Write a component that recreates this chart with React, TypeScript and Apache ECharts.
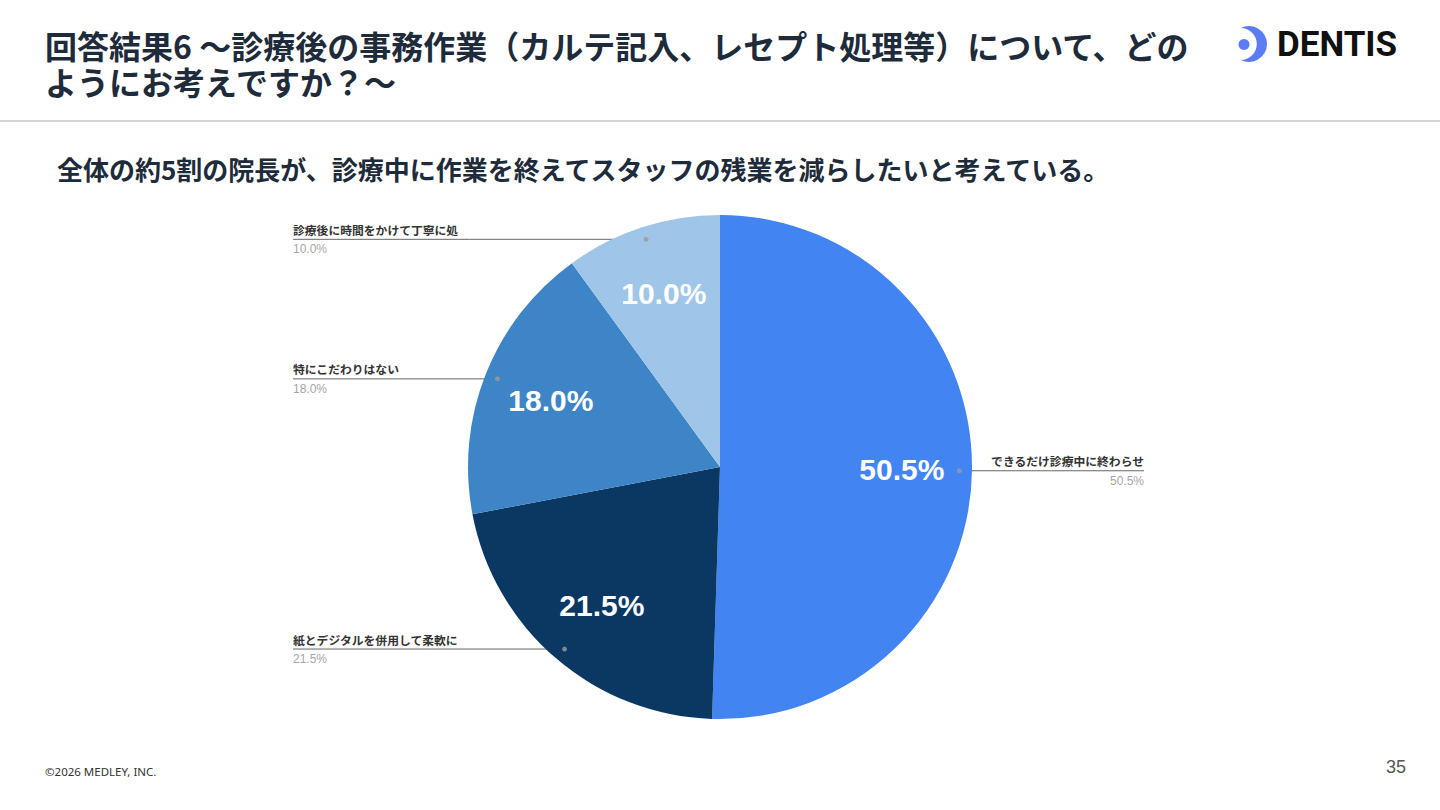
import React, { useEffect, useRef } from "react";
import * as echarts from "echarts";

// ---- data ----
const categories = [
  "できるだけ診療中に終わらせ",
  "紙とデジタルを併用して柔軟に",
  "特にこだわりはない",
  "診療後に時間をかけて丁寧に処",
];
const values = [50.5, 21.5, 18.0, 10.0];
const sliceColors = ["#4384f3", "#0b3763", "#3d85c6", "#9fc5e8"];

const titleLines = [
  "回答結果6 〜診療後の事務作業（カルテ記入、レセプト処理等）について、どの",
  "ようにお考えですか？〜",
];
const subtitle = "全体の約5割の院長が、診療中に作業を終えてスタッフの残業を減らしたいと考えている。";
const footerText = "©2026 MEDLEY, INC.";
const pageNumber = "35";
const brandName = "DENTIS";

// ---- layout ----
const W = 1440;
const H = 810;
const CX = 720;
const CY = 467;
const R = 252;
const DOT_FRAC = 0.95;
const LEFT_LABEL_X = 293;
const RIGHT_LABEL_X = 1144;

const crescentPath =
  "M 1240.75 28 A 18 18 0 1 1 1240.75 60 A 16 16 0 1 0 1240.75 28 Z";

function midAngles(): number[] {
  const total = values.reduce((a, b) => a + b, 0);
  let cum = 0;
  return values.map((v) => {
    const m = ((cum + v / 2) / total) * 360;
    cum += v;
    return m;
  });
}

export default function App() {
  const ref = useRef<HTMLDivElement>(null);

  useEffect(() => {
    if (!ref.current) return;
    try {
      echarts.graphic.registerShape(
        "dentisCrescent",
        echarts.graphic.extendPath(crescentPath, {})
      );
    } catch (e) {
      // already registered
    }
    const chart = echarts.init(ref.current, undefined, { renderer: "svg" });
    const mids = midAngles();
    const dots = mids.map((a) => {
      const rad = (a * Math.PI) / 180;
      return [
        CX + DOT_FRAC * R * Math.sin(rad),
        CY - DOT_FRAC * R * Math.cos(rad),
      ];
    });

    const pieData = categories.map((name, i) => ({
      name,
      value: values[i],
      itemStyle: { color: sliceColors[i] },
    }));

    const option: any = {
      animation: false,
      backgroundColor: "#ffffff",
      polar: { center: [CX, CY], radius: R },
      angleAxis: {
        type: "value",
        min: 0,
        max: 360,
        startAngle: 90,
        clockwise: true,
        show: false,
      },
      radiusAxis: { type: "value", min: 0, max: 1, show: false },
      graphic: [
        {
          type: "text",
          x: 45,
          y: 27,
          style: {
            text: titleLines.join("\n"),
            font: "bold 32px 'Noto Sans CJK JP'",
            lineHeight: 36,
            fill: "#1e2b3a",
            verticalAlign: "top",
          },
        },
        {
          type: "rect",
          shape: { x: 0, y: 120, width: W, height: 2 },
          style: { fill: "#d6d6d6" },
        },
        {
          type: "text",
          x: 57,
          y: 168,
          style: {
            text: subtitle,
            font: "bold 26px 'Noto Sans CJK JP'",
            fill: "#1e2b3a",
            verticalAlign: "middle",
          },
        },
        {
          type: "circle",
          shape: { cx: 1244, cy: 44.5, r: 5.5 },
          style: { fill: "#5b7cf3" },
        },
        {
          type: "dentisCrescent",
          x: 0,
          y: 0,
          style: { fill: "#5b7cf3" },
        },
        {
          type: "text",
          x: 1277,
          y: 44,
          style: {
            text: brandName,
            font: "bold 35px Roboto",
            fill: "#111111",
            verticalAlign: "middle",
          },
        },
        {
          type: "text",
          x: 45,
          y: 771,
          style: {
            text: footerText,
            font: "11.5px 'Noto Sans'",
            fill: "#333333",
            verticalAlign: "middle",
          },
        },
        {
          type: "text",
          x: 1406,
          y: 767,
          style: {
            text: pageNumber,
            font: "18px 'Liberation Sans'",
            fill: "#555555",
            align: "right",
            verticalAlign: "middle",
          },
        },
      ],
      series: [
        {
          type: "pie",
          center: [CX, CY],
          radius: [0, R],
          startAngle: 90,
          clockwise: true,
          avoidLabelOverlap: false,
          silent: true,
          data: pieData,
          label: {
            show: true,
            position: "outside",
            formatter: (p: any) =>
              `{name|${p.name}}\n{val|${Number(p.value).toFixed(1)}%}`,
            rich: {
              name: {
                fontFamily: "'Noto Sans CJK JP'",
                fontWeight: "bold",
                fontSize: 11.8,
                color: "#333333",
                lineHeight: 20,
              },
              val: {
                fontFamily: "'Liberation Sans'",
                fontSize: 12,
                color: "#a6a6a6",
                lineHeight: 20,
              },
            },
          },
          labelLine: {
            show: true,
            length: 10,
            length2: 10,
            lineStyle: { color: "#666666", width: 1 },
          },
          labelLayout: (params: any) => {
            const i = params.dataIndex;
            const [dx, dy] = dots[i];
            const right = dx > CX;
            const edgeX = right ? RIGHT_LABEL_X : LEFT_LABEL_X;
            return {
              x: edgeX,
              y: dy,
              align: right ? "right" : "left",
              verticalAlign: "middle",
              labelLinePoints: [
                [dx, dy],
                [(dx + edgeX) / 2, dy],
                [edgeX, dy],
              ],
            };
          },
        },
        {
          type: "pie",
          center: [CX, CY],
          radius: [0, R * 1.42],
          startAngle: 90,
          clockwise: true,
          silent: true,
          z: 3,
          data: categories.map((name, i) => ({
            name,
            value: values[i],
            itemStyle: { color: "rgba(0,0,0,0)" },
          })),
          label: {
            show: true,
            position: "inside",
            formatter: (p: any) => `${Number(p.value).toFixed(1)}%`,
            fontFamily: "'Liberation Sans', Arial",
            fontWeight: "bold",
            fontSize: 30,
            color: "#ffffff",
          },
          labelLine: { show: false },
        },
        {
          type: "scatter",
          coordinateSystem: "polar",
          silent: true,
          z: 5,
          symbolSize: 5,
          itemStyle: { color: "#9a9a9a" },
          data: mids.map((a) => [DOT_FRAC, a]),
        },
      ],
    };

    chart.setOption(option);
    return () => {
      chart.dispose();
    };
  }, []);

  return (
    <div
      ref={ref}
      style={{
        position: "absolute",
        left: 0,
        top: 0,
        width: W,
        height: H,
        background: "#ffffff",
      }}
    />
  );
}
